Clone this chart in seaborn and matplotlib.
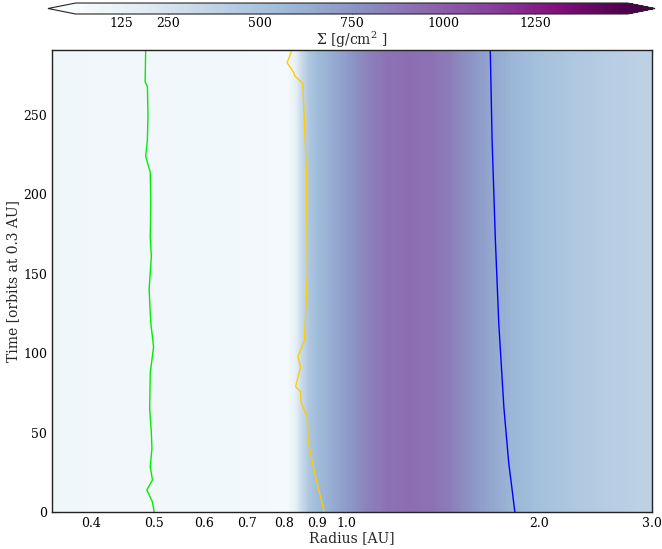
import numpy as np
import matplotlib
matplotlib.use("Agg")
import matplotlib.pyplot as plt
import seaborn as sns
import pandas as pd

# ---- data ----
radius = [0.34, 0.45, 0.60, 0.72, 0.79, 0.81, 0.83, 0.85, 0.875, 0.90, 0.95, 1.00,
          1.08, 1.15, 1.25, 1.35, 1.45, 1.55, 1.65, 1.80, 2.00, 2.30, 2.60, 3.00]
sigma = [62, 58, 52, 42, 30, 35, 120, 310, 480, 560, 640, 720,
         840, 900, 930, 910, 860, 770, 690, 600, 530, 460, 420, 385]
time_rows = [0, 295]

green_t = [0, 6.3, 13.9, 20.2, 28.4, 40, 49.8, 65, 87.6, 104, 119, 140, 161, 173,
           195, 214, 224, 234.5, 250, 268, 271, 291]
green_r = [0.501, 0.498, 0.488, 0.498, 0.494, 0.497, 0.496, 0.493, 0.494, 0.500, 0.495,
           0.492, 0.496, 0.494, 0.495, 0.494, 0.486, 0.489, 0.490, 0.489, 0.485, 0.486]

yellow_t = [0, 3.2, 24.6, 45.4, 60, 68.7, 75.7, 79, 91.4, 98, 108, 151, 214, 245, 270,
            274.5, 276.6, 283, 291]
yellow_r = [0.923, 0.919, 0.892, 0.871, 0.869, 0.850, 0.848, 0.833, 0.848, 0.840, 0.860,
            0.869, 0.866, 0.860, 0.855, 0.831, 0.828, 0.808, 0.822]

blue_t = [0, 14, 31, 66, 119, 171.5, 234.5, 291]
blue_r = [1.832, 1.814, 1.792, 1.761, 1.729, 1.708, 1.688, 1.677]

cbar_ticks = [125, 250, 500, 750, 1000, 1250]
xticks = [0.4, 0.5, 0.6, 0.7, 0.8, 0.9, 1.0, 2.0, 3.0]
yticks = [0, 50, 100, 150, 200, 250]

# ---- style ----
sns.set_style("ticks")
plt.rcParams["font.family"] = ["DejaVu Serif"]
plt.rcParams["mathtext.fontset"] = "dejavuserif"

fig = plt.figure(figsize=(6.62, 5.49), dpi=100)
ax = fig.add_axes([0.0785, 0.0674, 0.9065, 0.8415])

R, T = np.meshgrid(np.array(radius), np.array(time_rows))
Z = np.tile(np.array(sigma, dtype=float), (len(time_rows), 1))
levels = np.linspace(0, 1500, 301)
cf = ax.contourf(R, T, Z, levels=levels, cmap="BuPu", extend="both")

sns.lineplot(x=green_r, y=green_t, sort=False, estimator=None, color="#00ee00",
             lw=1.0, ax=ax)
sns.lineplot(x=yellow_r, y=yellow_t, sort=False, estimator=None, color="#ffcc00",
             lw=1.0, ax=ax)
sns.lineplot(x=blue_r, y=blue_t, sort=False, estimator=None, color="#0000ff",
             lw=1.0, ax=ax)

ax.set_xscale("log")
ax.set_xlim(0.347, 3.0)
ax.set_ylim(0, 291)
ax.set_xticks(xticks)
ax.set_xticklabels([f"{v:.1f}" for v in xticks])
ax.xaxis.set_minor_locator(matplotlib.ticker.NullLocator())
ax.set_yticks(yticks)
ax.tick_params(direction="in", top=True, right=True, labelsize=9, length=4,
               width=0.8, colors="#444444", labelcolor="black")
ax.set_xlabel("Radius [AU]", fontsize=10, labelpad=1)
ax.set_ylabel("Time [orbits at 0.3 AU]", fontsize=10, labelpad=2)
for s in ax.spines.values():
    s.set_linewidth(1.0)
    s.set_color("#222222")

cax = fig.add_axes([0.0725, 0.9745, 0.917, 0.02])
cb = fig.colorbar(cf, cax=cax, orientation="horizontal", extend="both")
cb.set_ticks(cbar_ticks)
cb.ax.tick_params(direction="in", top=True, bottom=True, length=3, labelsize=9,
                  colors="#444444", labelcolor="black", pad=2)
cb.set_label(r"$\Sigma$ [g/cm$^2$ ]", fontsize=10, labelpad=0)
cb.outline.set_linewidth(0.8)

fig.savefig("out.png", dpi=100)
